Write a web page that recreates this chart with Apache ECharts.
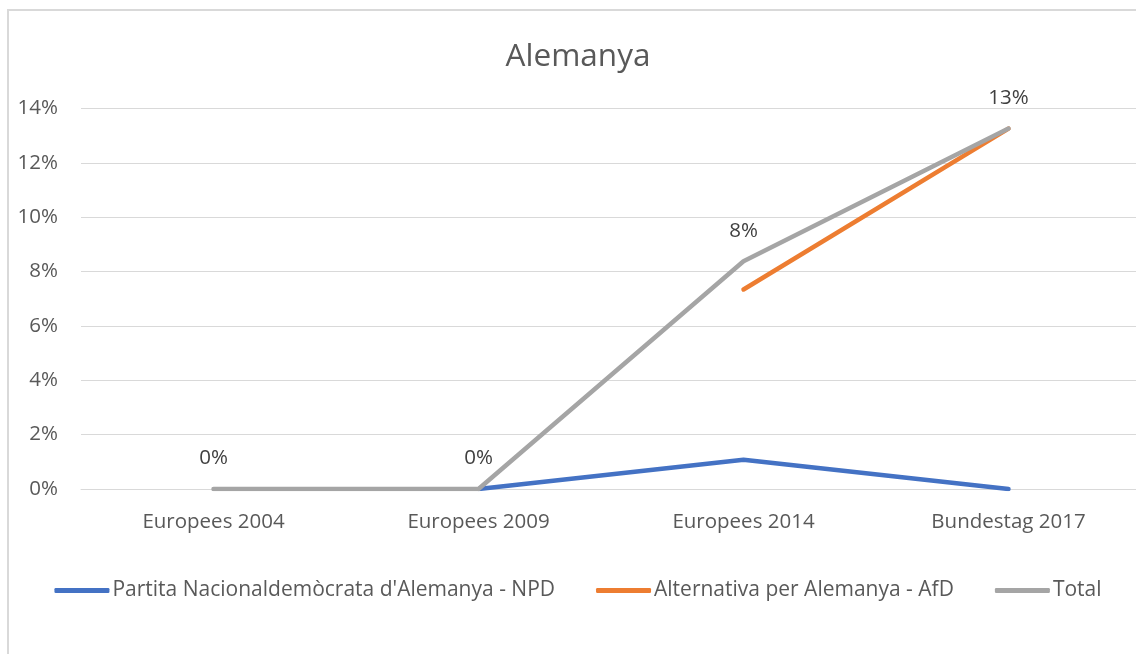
<!DOCTYPE html>
<html>
<head>
<meta charset="utf-8">
<script src="https://cdn.jsdelivr.net/npm/echarts@6/dist/echarts.min.js"></script>
<style>
	html, body { margin: 0; padding: 0; background: #fff; overflow: hidden; }
	#frame { position: absolute; left: 7px; top: 9px; width: 1200px; height: 700px; border-left: 2px solid #d9d9d9; border-top: 2px solid #d9d9d9; }
	#chart { position: absolute; left: 0; top: 0; width: 1156px; height: 654px; }
</style>
</head>
<body>
<div id="frame"></div>
<div id="chart"></div>
<script>
var categories = ['Europees 2004', 'Europees 2009', 'Europees 2014', 'Bundestag 2017'];
var npd = [null, 0, 1.08, 0]; // Partita Nacionaldemòcrata
var afd = [null, null, 7.34, 13.26]; // Alternativa per Alemanya
var total = [0, 0, 8.38, 13.26];
var yTicks = [0, 2, 4, 6, 8, 10, 12, 14];

var font = 'Open Sans';
var fs = 20.5;

function lineSeries(name, data, color) {
	return {
		name: name,
		type: 'line',
		data: data,
		symbol: 'circle',
		symbolSize: 0.1,
		showSymbol: true,
		lineStyle: { width: 4.5, color: color, cap: 'round', join: 'round' },
		itemStyle: { color: color },
		emphasis: { disabled: true }
	};
}

var myChart = echarts.init(document.getElementById('chart'));
var totalSeries = lineSeries('Total', total, '#a5a5a5');
totalSeries.label = {
	show: true,
	position: 'top',
	distance: 20,
	color: '#404040',
	fontFamily: font,
	fontSize: fs,
	formatter: function(p) { return Math.round(p.value) + '%'; }
};

var option = {
	animation: false,
	title: {
		text: 'Alemanya',
		left: 'center',
		top: 36,
		textStyle: { color: '#595959', fontFamily: font, fontSize: 31.5, fontWeight: 'normal' }
	},
	grid: { left: 81, right: 15, top: 108.5, bottom: 165 },
	legend: {
		top: 575,
		left: 'center',
		itemWidth: 55,
		itemHeight: 5,
		itemGap: 41,
		icon: 'roundRect',
		textStyle: { color: '#595959', fontFamily: font, fontSize: 21, padding: [0, 0, 0, -2] },
		data: ['Partita Nacionaldemòcrata d\'Alemanya - NPD', 'Alternativa per Alemanya - AfD', 'Total']
	},
	xAxis: {
		type: 'category',
		data: categories,
		boundaryGap: true,
		axisLine: { lineStyle: { color: '#d9d9d9', width: 1 } },
		axisTick: { show: false },
		axisLabel: { color: '#595959', fontFamily: font, fontSize: fs, margin: 23 }
	},
	yAxis: {
		type: 'value',
		min: yTicks[0],
		max: yTicks[yTicks.length - 1],
		interval: 2,
		axisLine: { show: false },
		axisTick: { show: false },
		splitLine: { lineStyle: { color: '#d9d9d9', width: 1 } },
		axisLabel: { color: '#595959', fontFamily: font, fontSize: fs, margin: 23, formatter: '{value}%' }
	},
	series: [
		lineSeries('Partita Nacionaldemòcrata d\'Alemanya - NPD', npd, '#4472c4'),
		lineSeries('Alternativa per Alemanya - AfD', afd, '#ed7d31'),
		totalSeries
	]
};
myChart.setOption(option);
</script>
</body>
</html>
